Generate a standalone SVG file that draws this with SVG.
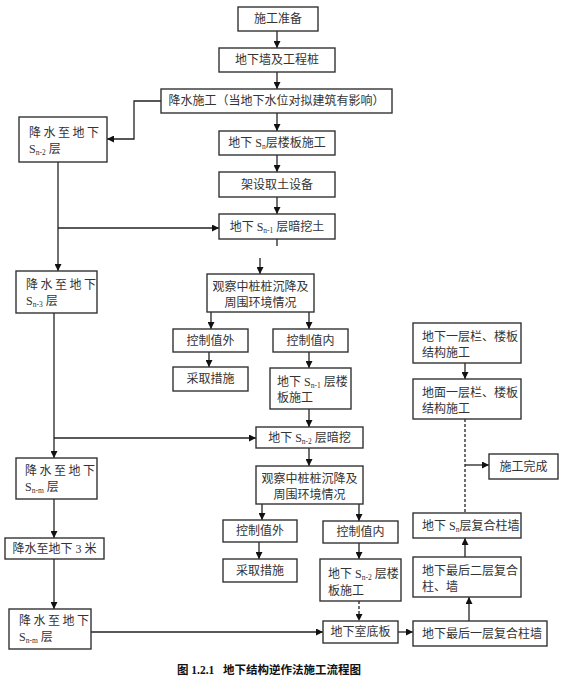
<svg xmlns="http://www.w3.org/2000/svg" width="571" height="681" viewBox="0 0 571 681">
<style>
rect.b{fill:#fff;stroke:#333;stroke-width:1.4}
text{font-family:"Liberation Serif","Noto Sans CJK SC",serif;font-size:12px;fill:#333}
text.c{text-anchor:middle}
.l{fill:none;stroke:#222;stroke-width:1.3}
.d{stroke-dasharray:3,2}
.s{font-size:7.5px}
.cap{font-weight:bold;font-size:11.5px;fill:#111}
</style>
<defs>
<marker id="a" viewBox="0 0 10 10" refX="10" refY="5" markerWidth="7" markerHeight="7" orient="auto" markerUnits="userSpaceOnUse">
<path d="M0,0 L10,5 L0,10 z" fill="#111"/>
</marker>
</defs>
<rect width="571" height="681" fill="#fff"/>
<g id="connectors">
<line class="l" x1="277" y1="31" x2="277" y2="48" marker-end="url(#a)"/>
<line class="l" x1="277" y1="72" x2="277" y2="89" marker-end="url(#a)"/>
<line class="l" x1="277" y1="113" x2="277" y2="131" marker-end="url(#a)"/>
<line class="l" x1="277" y1="155" x2="277" y2="172" marker-end="url(#a)"/>
<line class="l" x1="277" y1="197" x2="277" y2="214" marker-end="url(#a)"/>
<polyline class="l" points="161,101 134,101 134,139 107,139" marker-end="url(#a)"/>
<line class="l" x1="58" y1="162" x2="58" y2="271" marker-end="url(#a)"/>
<line class="l" x1="58" y1="228" x2="219" y2="228" marker-end="url(#a)"/>
<line class="l" x1="277" y1="239" x2="277" y2="246"/>
<line class="l" x1="260" y1="258" x2="260" y2="274" marker-end="url(#a)"/>
<line class="l" x1="211" y1="312" x2="211" y2="329" marker-end="url(#a)"/>
<line class="l" x1="209" y1="352" x2="209" y2="367" marker-end="url(#a)"/>
<line class="l" x1="309" y1="312" x2="309" y2="329" marker-end="url(#a)"/>
<line class="l" x1="309" y1="352" x2="309" y2="368" marker-end="url(#a)"/>
<line class="l" x1="309" y1="409" x2="309" y2="427" marker-end="url(#a)"/>
<line class="l" x1="54" y1="313" x2="54" y2="458" marker-end="url(#a)"/>
<line class="l" x1="54" y1="438" x2="256" y2="438" marker-end="url(#a)"/>
<line class="l" x1="309" y1="448" x2="309" y2="466" marker-end="url(#a)"/>
<line class="l" x1="262" y1="504" x2="262" y2="520" marker-end="url(#a)"/>
<line class="l" x1="259" y1="542" x2="259" y2="559" marker-end="url(#a)"/>
<line class="l" x1="359" y1="504" x2="359" y2="521" marker-end="url(#a)"/>
<line class="l" x1="359" y1="543" x2="359" y2="559" marker-end="url(#a)"/>
<line class="l d" x1="359" y1="601" x2="359" y2="621" marker-end="url(#a)"/>
<line class="l" x1="54" y1="499" x2="54" y2="538" marker-end="url(#a)"/>
<line class="l" x1="54" y1="559" x2="54" y2="609" marker-end="url(#a)"/>
<line class="l" x1="91" y1="632" x2="323" y2="632" marker-end="url(#a)"/>
<line class="l" x1="398" y1="632" x2="413" y2="632" marker-end="url(#a)"/>
<line class="l" x1="469" y1="621" x2="469" y2="597" marker-end="url(#a)"/>
<line class="l" x1="465" y1="557" x2="465" y2="538" marker-end="url(#a)"/>
<line class="l" x1="465" y1="363" x2="465" y2="379" marker-end="url(#a)"/>
<line class="l d" x1="465" y1="419" x2="465" y2="513"/>
<line class="l" x1="465" y1="465" x2="489" y2="465" marker-end="url(#a)"/>
</g>
<g id="n1"><rect class="b" x="238" y="7" width="80" height="24"/><text class="c" x="278" y="23">施工准备</text></g>
<g id="n2"><rect class="b" x="219" y="48" width="116" height="24"/><text class="c" x="277" y="64">地下墙及工程桩</text></g>
<g id="n3"><rect class="b" x="161" y="89" width="231" height="24"/><text class="c" x="276.5" y="105">降水施工（当地下水位对拟建筑有影响）</text></g>
<g id="n4"><rect class="b" x="219" y="131" width="116" height="24"/><text class="c" x="277" y="147">地下 S<tspan class="s" dy="2">n</tspan><tspan dy="-2">层楼板施工</tspan></text></g>
<g id="n5"><rect class="b" x="219" y="172" width="116" height="25"/><text class="c" x="277" y="189">架设取土设备</text></g>
<g id="n6"><rect class="b" x="219" y="214" width="116" height="25"/><text class="c" x="277" y="231">地下 S<tspan class="s" dy="2">n-1</tspan><tspan dy="-2"> 层暗挖土</tspan></text></g>
<g id="n7"><rect class="b" x="19" y="117" width="88" height="45"/><text x="29" y="137" letter-spacing="2.5">降水至地下</text><text x="29" y="153">S<tspan class="s" dy="2">n-2</tspan><tspan dy="-2"> 层</tspan></text></g>
<g id="n8"><rect class="b" x="16" y="271" width="81" height="42"/><text x="26" y="289" letter-spacing="2.5">降水至地下</text><text x="26" y="305">S<tspan class="s" dy="2">n-3</tspan><tspan dy="-2"> 层</tspan></text></g>
<g id="n9"><rect class="b" x="207" y="274" width="107" height="38"/><text class="c" x="260.5" y="291">观察中桩桩沉降及</text><text class="c" x="260.5" y="307">周围环境情况</text></g>
<g id="n10"><rect class="b" x="173" y="329" width="75" height="23"/><text class="c" x="210.5" y="345">控制值外</text></g>
<g id="n11"><rect class="b" x="173" y="367" width="75" height="24"/><text class="c" x="210.5" y="383">采取措施</text></g>
<g id="n12"><rect class="b" x="273" y="329" width="75" height="23"/><text class="c" x="310.5" y="345">控制值内</text></g>
<g id="n13"><rect class="b" x="270" y="368" width="81" height="41"/><text x="277" y="386">地下 S<tspan class="s" dy="2">n-1</tspan><tspan dy="-2"> 层楼</tspan></text><text x="277" y="402">板施工</text></g>
<g id="n14"><rect class="b" x="256" y="427" width="107" height="21"/><text class="c" x="309.5" y="442">地下 S<tspan class="s" dy="2">n-2</tspan><tspan dy="-2"> 层暗挖</tspan></text></g>
<g id="n15"><rect class="b" x="16" y="458" width="81" height="41"/><text x="25" y="475" letter-spacing="2.5">降水至地下</text><text x="25" y="491">S<tspan class="s" dy="2">n-m</tspan><tspan dy="-2"> 层</tspan></text></g>
<g id="n16"><rect class="b" x="256" y="466" width="107" height="38"/><text class="c" x="309.5" y="483">观察中桩桩沉降及</text><text class="c" x="309.5" y="499">周围环境情况</text></g>
<g id="n17"><rect class="b" x="223" y="520" width="74" height="22"/><text class="c" x="260" y="535">控制值外</text></g>
<g id="n18"><rect class="b" x="223" y="559" width="74" height="23"/><text class="c" x="260" y="575">采取措施</text></g>
<g id="n19"><rect class="b" x="323" y="521" width="75" height="22"/><text class="c" x="360.5" y="536">控制值内</text></g>
<g id="n20"><rect class="b" x="320" y="559" width="81" height="42"/><text x="328" y="578">地下 S<tspan class="s" dy="2">n-2</tspan><tspan dy="-2"> 层楼</tspan></text><text x="328" y="595">板施工</text></g>
<g id="n21"><rect class="b" x="5" y="538" width="99" height="21"/><text class="c" x="54.5" y="553">降水至地下 3 米</text></g>
<g id="n22"><rect class="b" x="9" y="609" width="82" height="40"/><text x="19" y="625" letter-spacing="2.5">降水至地下</text><text x="19" y="641">S<tspan class="s" dy="2">n-m</tspan><tspan dy="-2"> 层</tspan></text></g>
<g id="n23"><rect class="b" x="323" y="621" width="75" height="22"/><text class="c" x="360.5" y="636">地下室底板</text></g>
<g id="n24"><rect class="b" x="413" y="621" width="134" height="25"/><text x="422" y="638">地下最后一层复合柱墙</text></g>
<g id="n25"><rect class="b" x="413" y="557" width="108" height="40"/><text x="422" y="575">地下最后二层复合</text><text x="422" y="591">柱、墙</text></g>
<g id="n26"><rect class="b" x="413" y="513" width="108" height="25"/><text x="422" y="530">地下 S<tspan class="s" dy="2">n</tspan><tspan dy="-2">层复合柱墙</tspan></text></g>
<g id="n27"><rect class="b" x="489" y="454" width="69" height="25"/><text class="c" x="523.5" y="471">施工完成</text></g>
<g id="n28"><rect class="b" x="413" y="379" width="108" height="40"/><text x="422" y="397">地面一层栏、楼板</text><text x="422" y="413">结构施工</text></g>
<g id="n29"><rect class="b" x="413" y="323" width="108" height="40"/><text x="422" y="341">地下一层栏、楼板</text><text x="422" y="357">结构施工</text></g>
<text class="cap" x="177" y="674">图 1.2.1<tspan x="223">地下结构逆作法施工流程图</tspan></text>
</svg>
